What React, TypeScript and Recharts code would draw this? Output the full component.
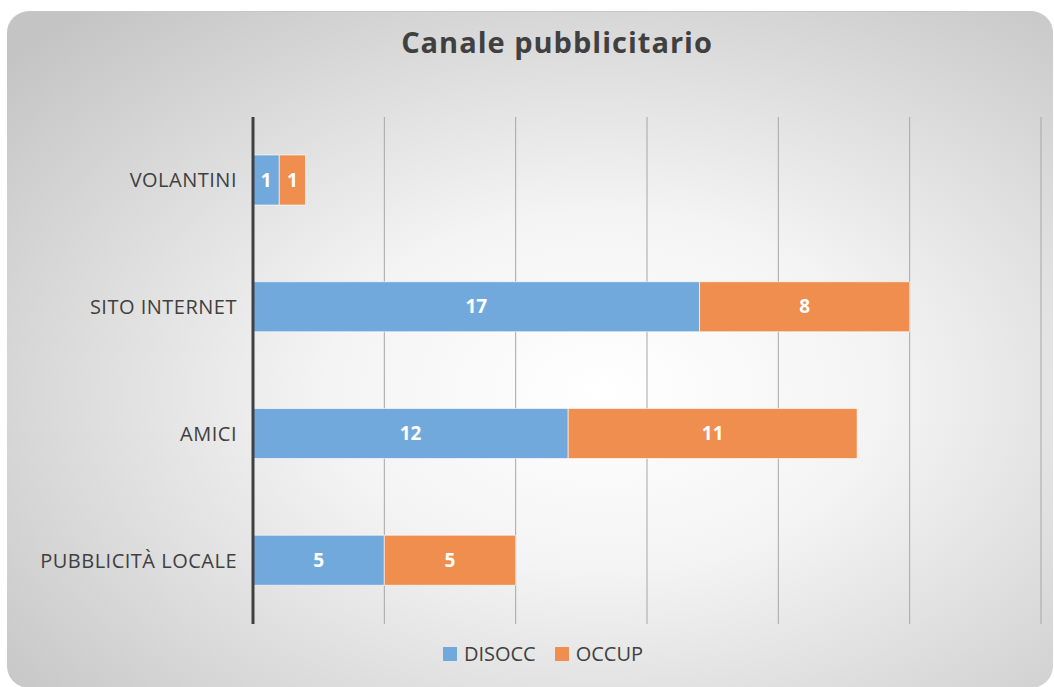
import React from 'react';
import { BarChart, Bar, XAxis, YAxis, CartesianGrid, LabelList, Legend } from 'recharts';

const categories = ['VOLANTINI', 'SITO INTERNET', 'AMICI', 'PUBBLICITÀ LOCALE'];
const disocc = [1, 17, 12, 5];
const occup = [1, 8, 11, 5];
const xTicks = [0, 5, 10, 15, 20, 25, 30];

const data = categories.map((name, i) => ({ name, DISOCC: disocc[i], OCCUP: occup[i] }));

const FONT = '"Open Sans", Lato, sans-serif';
const BLUE = '#72a9dc';
const ORANGE = '#ef8e4e';

const renderLegend = () => (
  <div style={{ display: 'flex', justifyContent: 'center', alignItems: 'center', fontFamily: FONT, fontSize: 20, color: '#404040', lineHeight: '26px' }}>
    <span style={{ display: 'inline-block', width: 14, height: 14, background: BLUE, marginRight: 7 }} />
    <span style={{ marginRight: 19 }}>DISOCC</span>
    <span style={{ display: 'inline-block', width: 14, height: 14, background: ORANGE, marginRight: 7 }} />
    <span>OCCUP</span>
  </div>
);

const EmptyTick = () => <g />;

export default function App() {
  return (
    <div style={{ position: 'absolute', left: 0, top: 0, width: 1054, height: 687, background: '#fff', overflow: 'hidden' }}>
      <div
        style={{
          position: 'absolute',
          left: 7,
          top: 11,
          width: 1046,
          height: 676,
          borderRadius: 22,
          background: 'radial-gradient(ellipse 75% 75% at 57% 56%, #ffffff 0%, #f4f4f4 35%, #c4c4c4 100%)',
          borderTop: '1px solid #c8c8c8',
        }}
      />
      <div
        style={{
          position: 'absolute',
          left: 0,
          top: 28,
          width: 1114,
          textAlign: 'center',
          fontFamily: FONT,
          fontWeight: 'bold',
          fontSize: 29,
          letterSpacing: 1,
          lineHeight: '28px',
          color: '#404040',
        }}
      >
        Canale pubblicitario
      </div>
      <div style={{ position: 'absolute', left: 0, top: 0 }}>
        <BarChart
          width={1054}
          height={687}
          data={data}
          layout="vertical"
          margin={{ top: 117, right: 13, bottom: 63, left: 0 }}
          barSize={50}
        >
          <CartesianGrid horizontal={false} vertical={true} stroke="#a6a6a6" />
          <XAxis type="number" domain={[0, 30]} ticks={xTicks} tick={<EmptyTick />} axisLine={false} tickLine={false} height={0} />
          <YAxis
            type="category"
            dataKey="name"
            width={253}
            axisLine={{ stroke: '#404040', strokeWidth: 3 }}
            tickLine={false}
            tickSize={0}
            tickMargin={16}
            tick={{ fill: '#404040', fontSize: 20, fontFamily: FONT, letterSpacing: 0.5 }}
          />
          <Legend
            verticalAlign="middle"
            align="center"
            layout="horizontal"
            content={renderLegend}
            wrapperStyle={{ top: 641, left: 0, width: 1086 }}
          />
          <Bar dataKey="DISOCC" stackId="a" fill={BLUE} stroke="#ffffff" strokeOpacity={0.6} isAnimationActive={false}>
            <LabelList dataKey="DISOCC" position="center" fill="#ffffff" fontSize={19} fontWeight="bold" fontFamily={FONT} />
          </Bar>
          <Bar dataKey="OCCUP" stackId="a" fill={ORANGE} stroke="#ffffff" strokeOpacity={0.6} isAnimationActive={false}>
            <LabelList dataKey="OCCUP" position="center" fill="#ffffff" fontSize={19} fontWeight="bold" fontFamily={FONT} />
          </Bar>
        </BarChart>
      </div>
    </div>
  );
}
